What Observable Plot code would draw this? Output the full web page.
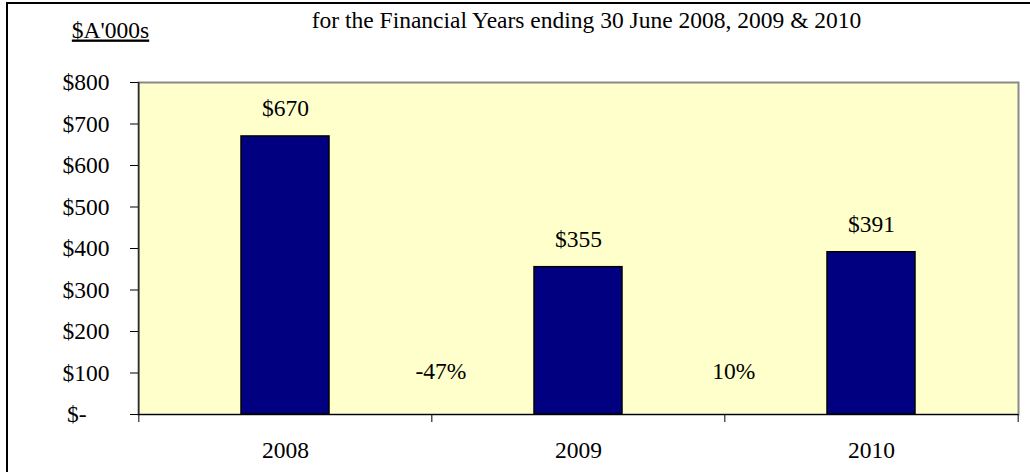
<!DOCTYPE html>
<html>
<head>
<meta charset="utf-8">
<script src="https://cdn.jsdelivr.net/npm/d3@7"></script>
<script src="https://cdn.jsdelivr.net/npm/@observablehq/plot@0.6"></script>
<style>
  html, body { margin: 0; padding: 0; background: #fff; overflow: hidden; }
  #wrap { position: relative; width: 1030px; height: 472px; }
  #border { position: absolute; left: 6px; top: 2px; width: 1100px; height: 600px;
            border-left: 2px solid #000; border-top: 2px solid #000; box-sizing: border-box; }
  #chart { position: absolute; left: 0; top: 0; }
</style>
</head>
<body>
<div id="wrap"><div id="border"></div><div id="chart"></div></div>
<script>
// ---- data ----
const years = ["2008", "2009", "2010"];
const values = [670, 355, 391];            // $A'000s
const changes = [-47, 10];                 // % change vs previous year
const yTicks = [0, 100, 200, 300, 400, 500, 600, 700, 800];
const title = "for the Financial Years ending 30 June 2008, 2009 & 2010";
const unitLabel = "$A'000s";

const data = years.map((year, i) => ({year, value: values[i]}));
const changeData = changes.map((change, i) => ({year: years[i + 1], change}));

// ---- layout ----
const W = 1030, H = 472, mL = 138, mR = 12, mT = 82, mB = 58;
const step = (W - mL - mR) / years.length;
const frameH = H - mT - mB;
const FS = 23.5;

const chart = Plot.plot({
  width: W, height: H,
  marginLeft: mL, marginRight: mR, marginTop: mT, marginBottom: mB,
  style: {fontFamily: "'Liberation Serif', 'Times New Roman', serif", fontSize: FS + "px", color: "#000", background: "transparent"},
  x: {domain: years, paddingInner: 0.7, paddingOuter: 0.35, label: null},
  y: {domain: [0, 800], label: null},
  marks: [
    Plot.frame({fill: "#FFFFCC", stroke: "#8a8a8a", strokeWidth: 2}),
    Plot.barY(data, {x: "year", y: "value", fill: "#000080", stroke: "#000", strokeWidth: 1.5}),
    Plot.ruleY([0], {stroke: "#000", strokeWidth: 1}),
    Plot.ruleX([years[0]], {x: d => d, dx: -step / 2, stroke: "#000", strokeWidth: 1}),
    Plot.ruleX(years, {x: d => d, dx: -step / 2, insetTop: frameH, insetBottom: -8, stroke: "#000"}),
    Plot.ruleX([years[years.length - 1]], {x: d => d, dx: step / 2, insetTop: frameH, insetBottom: -8, stroke: "#000"}),
    Plot.axisY({ticks: yTicks.filter(d => d !== 0), tickSize: 8, tickPadding: 21, tickFormat: d => "$" + d, fontSize: FS, label: null}),
    Plot.axisY({ticks: [0], tickSize: 8, tickPadding: 44, tickFormat: () => "$-", fontSize: FS, label: null}),
    Plot.axisX({tickSize: 0, tickPadding: 27, fontSize: FS, label: null}),
    Plot.text(data, {x: "year", y: "value", text: d => "$" + d.value, lineAnchor: "bottom", dy: -20, fontSize: FS}),
    Plot.text(changeData, {x: "year", y: 0, text: d => d.change + "%", dx: -step / 2 + 9, lineAnchor: "bottom", dy: -36, fontSize: FS}),
    Plot.text([title], {text: d => d, frameAnchor: "top", lineAnchor: "bottom", dy: -55, dx: 8, fontSize: FS}),
    Plot.text([unitLabel], {text: d => d, frameAnchor: "top-left", textAnchor: "middle", lineAnchor: "bottom", dx: -28, dy: -45, fontSize: FS})
  ]
});

d3.select(chart).selectAll("text").filter(function () { return this.textContent === unitLabel; })
  .style("text-decoration", "underline");

document.getElementById("chart").appendChild(chart);
</script>
</body>
</html>
